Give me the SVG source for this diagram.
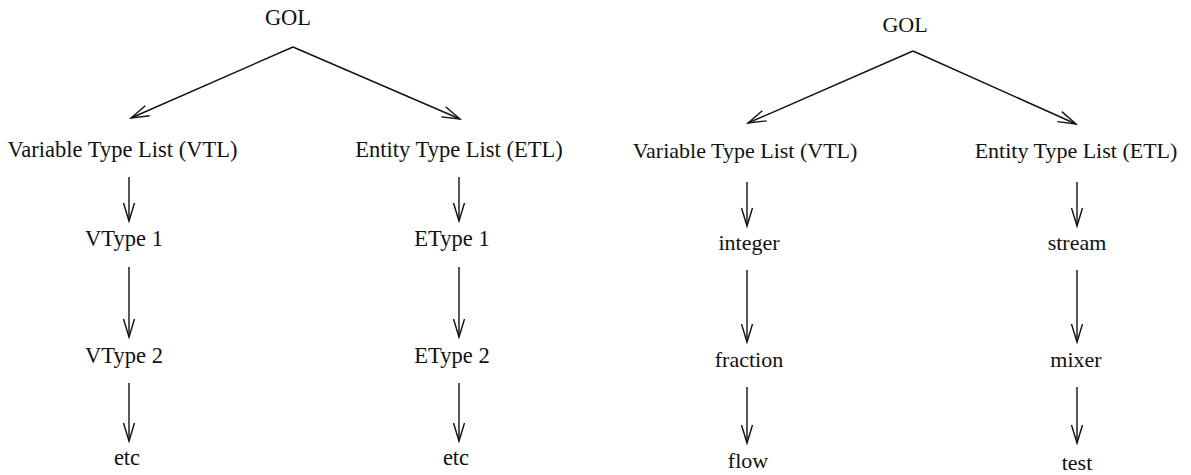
<svg xmlns="http://www.w3.org/2000/svg" width="1191" height="475" viewBox="0 0 1191 475">
  <style>
    text { font-family: "Liberation Serif", "Times New Roman", serif; fill: #111; text-anchor: middle; }
    .l { font-size: 22.5px; }
    .r { font-size: 22px; }
    .edge { fill: none; stroke: #111; stroke-width: 1.4; marker-end: url(#open); }
  </style>
  <defs>
    <marker id="open" markerUnits="userSpaceOnUse" orient="auto" refX="0" refY="0" markerWidth="20" markerHeight="12" viewBox="-19 -6 20 12" overflow="visible">
      <path d="M-18,-5.5 L0,0 L-18,5.5" fill="none" stroke="#111" stroke-width="1.4"/>
    </marker>
  </defs>

  <rect width="1191" height="475" fill="#fff"/>

  <!-- generic tree -->
  <g id="gol-a"><text class="l" x="288" y="25">GOL</text></g>
  <g id="vtl-a"><text class="l" x="122.5" y="157">Variable Type List (VTL)</text></g>
  <g id="etl-a"><text class="l" x="459" y="157">Entity Type List (ETL)</text></g>
  <g id="vtype1"><text class="l" x="124" y="246">VType 1</text></g>
  <g id="vtype2"><text class="l" x="124" y="363">VType 2</text></g>
  <g id="vetc"><text class="l" x="127" y="465">etc</text></g>
  <g id="etype1"><text class="l" x="452" y="246">EType 1</text></g>
  <g id="etype2"><text class="l" x="452" y="363">EType 2</text></g>
  <g id="eetc"><text class="l" x="456" y="465">etc</text></g>

  <!-- example tree -->
  <g id="gol-b"><text class="r" x="905" y="32">GOL</text></g>
  <g id="vtl-b"><text class="r" x="745" y="158">Variable Type List (VTL)</text></g>
  <g id="etl-b"><text class="r" x="1076" y="158">Entity Type List (ETL)</text></g>
  <g id="integer"><text class="r" x="749" y="250">integer</text></g>
  <g id="fraction"><text class="r" x="749" y="367">fraction</text></g>
  <g id="flow"><text class="r" x="748" y="468">flow</text></g>
  <g id="stream"><text class="r" x="1077" y="250">stream</text></g>
  <g id="mixer"><text class="r" x="1076" y="367">mixer</text></g>
  <g id="test"><text class="r" x="1077" y="470">test</text></g>

  <g id="connectors">
    <path class="edge" d="M293,47 L131,118"/>
    <path class="edge" d="M293,47 L460,119"/>
    <path class="edge" d="M129,177 L129,221"/>
    <path class="edge" d="M129,267 L129,337"/>
    <path class="edge" d="M129,383 L129,441"/>
    <path class="edge" d="M459,177 L459,221"/>
    <path class="edge" d="M459,267 L459,337"/>
    <path class="edge" d="M459,383 L459,441"/>

    <path class="edge" d="M913,51 L748,123"/>
    <path class="edge" d="M913,51 L1076,124"/>
    <path class="edge" d="M747,182 L747,226"/>
    <path class="edge" d="M747,270 L747,342"/>
    <path class="edge" d="M747,387 L747,443"/>
    <path class="edge" d="M1077,182 L1077,226"/>
    <path class="edge" d="M1077,270 L1077,342"/>
    <path class="edge" d="M1077,387 L1077,443"/>
  </g>
</svg>
